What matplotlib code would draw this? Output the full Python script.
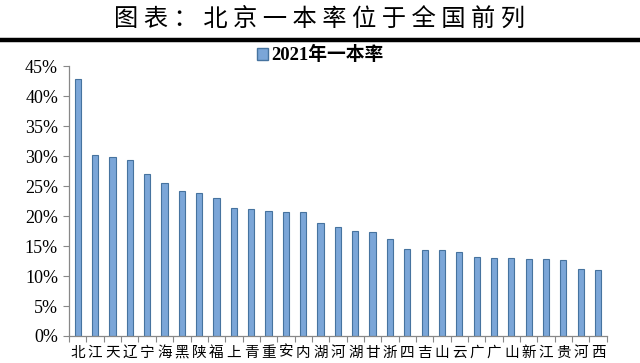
import matplotlib
matplotlib.use("Agg")
import matplotlib.pyplot as plt
from matplotlib.lines import Line2D
from matplotlib.patches import Patch
from matplotlib.ticker import PercentFormatter, MultipleLocator

plt.rcParams['font.family'] = ['Liberation Serif', 'Noto Sans CJK SC']

# data
provinces = ['北', '江', '天', '辽', '宁', '海', '黑', '陕', '福', '上', '青', '重', '安', '内', '湖',
             '河', '湖', '甘', '浙', '四', '吉', '山', '云', '广', '广', '山', '新', '江', '贵', '河', '西']
rate_2021 = [42.8, 30.2, 29.9, 29.3, 27.0, 25.5, 24.1, 23.8, 23.0, 21.4, 21.2, 20.9, 20.7, 20.6, 18.9,
             18.1, 17.5, 17.3, 16.1, 14.5, 14.3, 14.3, 14.0, 13.1, 13.0, 13.0, 12.9, 12.8, 12.6, 11.1, 11.0]
series_name = '2021年一本率'
title = '图表：北京一本率位于全国前列'

face = '#7ba6d8'
edge = '#46739f'

fig = plt.figure(figsize=(6.4, 3.63), dpi=100)
ax = fig.add_axes([0.108, 0.0744, 0.840, 0.7436])

x = range(len(provinces))
ax.bar(x, rate_2021, width=0.36, color=face, edgecolor=edge, linewidth=0.8)

ax.set_xlim(-0.5, len(provinces) - 0.5)
ax.set_ylim(0, 45)
ax.yaxis.set_major_locator(MultipleLocator(5))
ax.yaxis.set_major_formatter(PercentFormatter(decimals=0))
for lab in ax.get_yticklabels():
    lab.set_fontsize(13)

# category labels between boundary ticks
ax.set_xticks([i + 0.5 for i in range(-1, len(provinces))])
ax.set_xticklabels([])
ax.set_xticks(list(x), minor=True)
ax.set_xticklabels(provinces, minor=True, fontsize=10.5, family=['Noto Sans CJK SC'])
ax.tick_params(axis='x', which='minor', length=0, pad=7)
ax.tick_params(axis='x', which='major', length=4, color='#888888', direction='out')
ax.tick_params(axis='y', length=4, color='#888888', direction='out', pad=4)

for s in ['top', 'right']:
    ax.spines[s].set_visible(False)
for s in ['left', 'bottom']:
    ax.spines[s].set_color('#888888')
    ax.spines[s].set_linewidth(0.9)

# title (letter-spaced) and thick rule below it
fig.text(0.5, 0.948, ' '.join(title), ha='center', va='center', fontsize=17.5,
         family=['Noto Sans CJK SC', 'DejaVu Sans'], fontweight='light')
fig.add_artist(Line2D([0.0, 1.0], [0.89, 0.89], color='black', linewidth=3.2))

handles = [Patch(facecolor=face, edgecolor=edge, label=series_name)]
fig.legend(handles=handles, loc='center', bbox_to_anchor=(0.5, 0.848), frameon=False,
           handlelength=0.6, handleheight=0.6, handletextpad=0.15,
           prop={'family': ['Liberation Serif', 'Noto Sans CJK SC'], 'weight': 'bold', 'size': 13.5})

fig.savefig('out.png', dpi=100)
